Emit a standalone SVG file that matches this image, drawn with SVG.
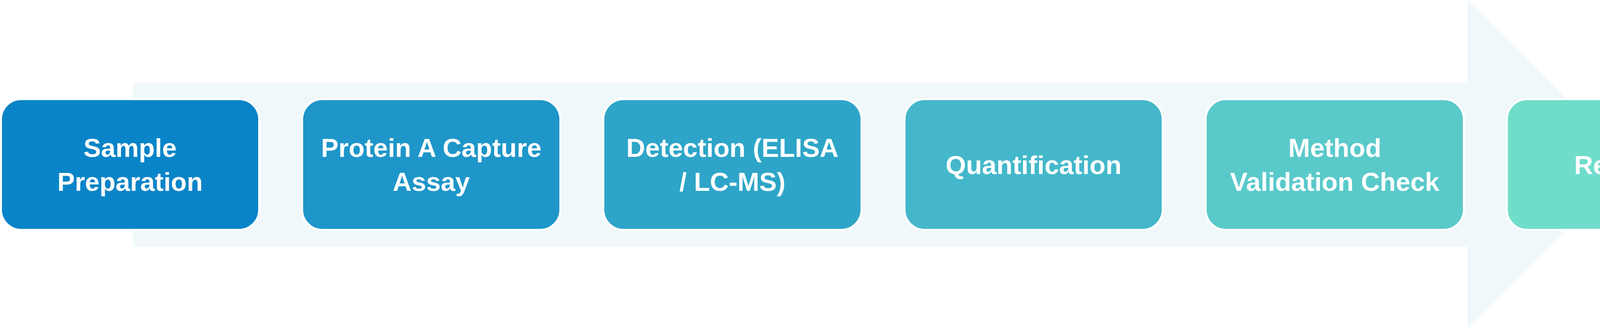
<svg xmlns="http://www.w3.org/2000/svg" width="4521" height="843" viewBox="0 0 4521 843">
  <style>
    .box { stroke: #FFFFFF; stroke-width: 5; }
    .lbl { font-family: "Liberation Sans", Arial, sans-serif; font-weight: bold; font-size: 67px; fill: #FFFFFF; text-anchor: middle; }
  </style>
  <rect width="4521" height="843" fill="#FFFFFF"/>
  <g id="connectors">
    <polygon id="flow-arrow" points="341,211 3757,211 3757,0 4178.5,421.5 3757,843 3757,632 341,632" fill="#F1F8FB"/>
  </g>
  <g id="node-sample-preparation">
    <rect class="box" x="2.5" y="254" width="661" height="335" rx="52" ry="52" fill="#0A84C8"/>
    <text class="lbl" x="333" y="402">Sample</text>
    <text class="lbl" x="333" y="489">Preparation</text>
  </g>
  <g id="node-protein-a-capture">
    <rect class="box" x="773.5" y="254" width="661" height="335" rx="52" ry="52" fill="#1E96C9"/>
    <text class="lbl" x="1104" y="402">Protein A Capture</text>
    <text class="lbl" x="1104" y="489">Assay</text>
  </g>
  <g id="node-detection">
    <rect class="box" x="1544.5" y="254" width="661" height="335" rx="52" ry="52" fill="#2EA5C8"/>
    <text class="lbl" x="1875" y="402">Detection (ELISA</text>
    <text class="lbl" x="1875" y="489">/ LC-MS)</text>
  </g>
  <g id="node-quantification">
    <rect class="box" x="2315.5" y="254" width="661" height="335" rx="52" ry="52" fill="#44B8CA"/>
    <text class="lbl" x="2646" y="445.5">Quantification</text>
  </g>
  <g id="node-method-validation">
    <rect class="box" x="3086.5" y="254" width="661" height="335" rx="52" ry="52" fill="#5AC9CA"/>
    <text class="lbl" x="3417" y="402">Method</text>
    <text class="lbl" x="3417" y="489">Validation Check</text>
  </g>
  <g id="node-reporting">
    <rect class="box" x="3857.5" y="254" width="661" height="335" rx="52" ry="52" fill="#70DDCB"/>
    <text class="lbl" x="4188" y="445.5">Reporting</text>
  </g>
</svg>
